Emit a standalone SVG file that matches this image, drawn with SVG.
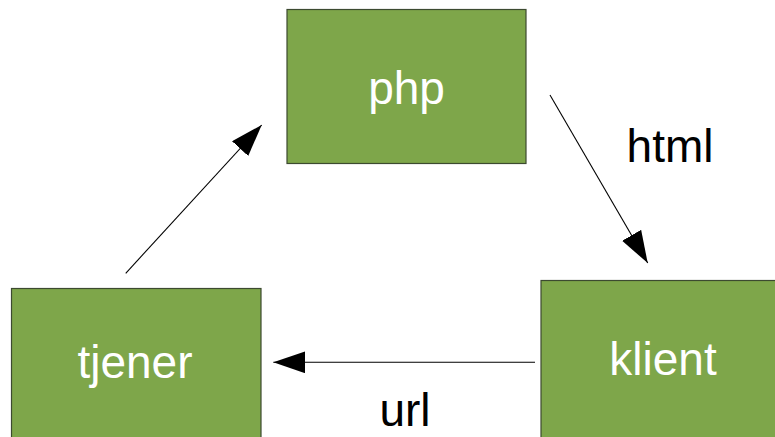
<svg xmlns="http://www.w3.org/2000/svg" width="775" height="437" viewBox="0 0 775 437">
<style>
.box{fill:#7ea64a;stroke:#3c4a30;stroke-width:1.2}
.lbl{font-family:"Liberation Sans",Arial,sans-serif;font-size:46px;fill:#ffffff;text-anchor:middle}
.edge{stroke:#000;stroke-width:1.1;fill:none}
.elbl{font-family:"Liberation Sans",Arial,sans-serif;font-size:46px;fill:#000;text-anchor:middle}
</style>
<defs>
<marker id="arr" markerUnits="userSpaceOnUse" markerWidth="34" markerHeight="24" refX="32" refY="11" orient="auto">
<path d="M0,0 L32,11 L0,22 Z" fill="#000"/>
</marker>
</defs>
<rect width="775" height="437" fill="#ffffff"/>
<g id="php">
<rect class="box" x="287" y="9.5" width="239" height="154"/>
<text class="lbl" x="406.5" y="104">php</text>
</g>
<g id="tjener">
<rect class="box" x="11.5" y="288.5" width="249.5" height="160"/>
<text class="lbl" x="135" y="378">tjener</text>
</g>
<g id="klient">
<rect class="box" x="541" y="280.5" width="250" height="170"/>
<text class="lbl" x="663" y="375">klient</text>
</g>
<g id="connectors">
<line class="edge" x1="550" y1="95" x2="647.7" y2="263" marker-end="url(#arr)"/>
<line class="edge" x1="125.7" y1="273.3" x2="261.7" y2="125" marker-end="url(#arr)"/>
<line class="edge" x1="535" y1="362.3" x2="273.3" y2="362.3" marker-end="url(#arr)"/>
<text class="elbl" x="670" y="162">html</text>
<text class="elbl" x="405" y="426">url</text>
</g>
</svg>
